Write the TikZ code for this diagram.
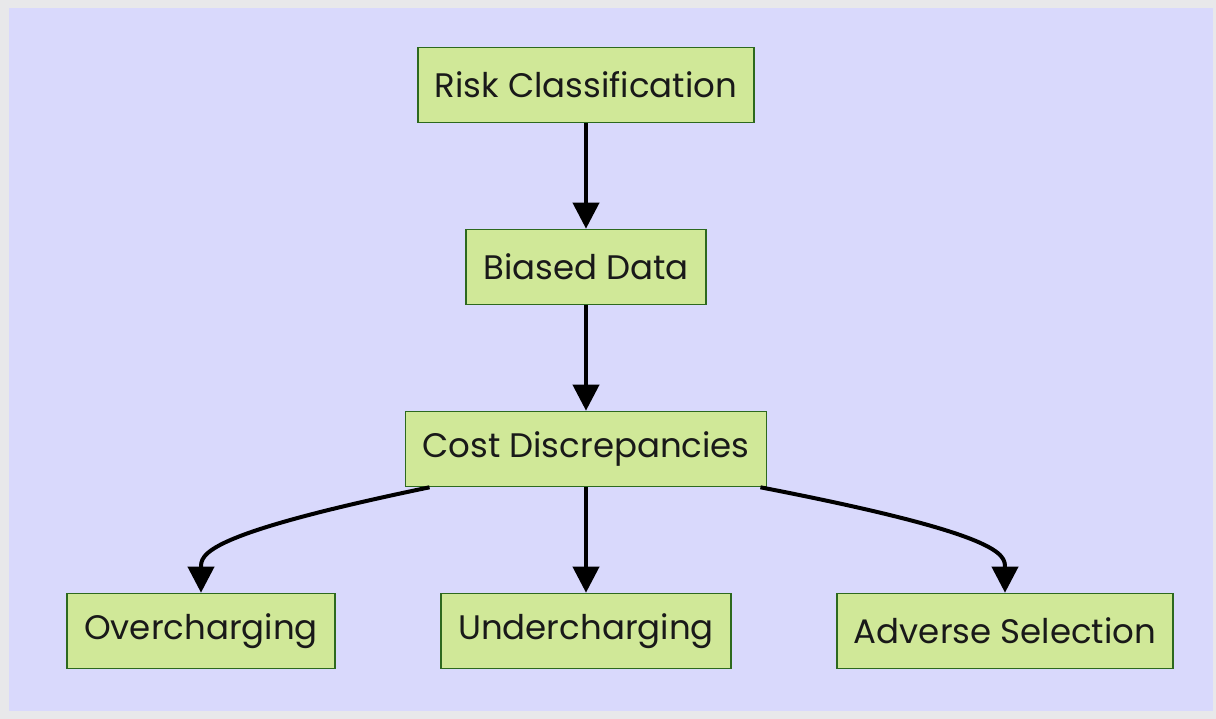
\documentclass[tikz,border=0pt]{standalone}
\usepackage{fontspec}
\setmainfont{Poppins}
\usepackage{tikz}
\usetikzlibrary{positioning}
\usetikzlibrary{arrows.meta}
\definecolor{pagegray}{RGB}{232,232,234}
\definecolor{lavender}{RGB}{217,217,252}
\definecolor{boxfill}{RGB}{208,232,152}
\definecolor{boxline}{RGB}{45,105,30}
\definecolor{inkdark}{RGB}{25,25,25}
\tikzset{node distance=182pt,
      box/.style={draw=boxline, fill=boxfill, line width=1.6pt,
      minimum height=75pt, inner xsep=17pt, text=inkdark,
      font=\fontsize{34}{40}\selectfont},
      link/.style={draw, line width=4pt,
      -{Triangle[width=26pt,length=26pt]}}}

\begin{document}
\begin{tikzpicture}[x=1pt,y=-1pt]
          \useasboundingbox (0,0) rectangle (1216,719);
          \fill[pagegray] (0,0) rectangle (1216,719);
          \fill[lavender] (9,8) rectangle (1213,711);
          \node[box] (risk) at (586,85) {Risk Classification};
          \node[box, below of=risk] (biased) {Biased Data};
          \node[box, below of=biased] (cost) {Cost Discrepancies};
          \node[box, below of=cost] (under) {Undercharging};
          \node[box, below of=cost, xshift=-385] (over) {Overcharging};
          \node[box, below of=cost, xshift=419] (adverse) {Adverse Selection};
          \draw[link] (risk) -- (biased);
          \draw[link] (biased) -- (cost);
          \draw[link] (cost) -- (under);
          \draw[link] ([xshift=25]cost.south west) .. controls ([yshift=58]over.north) and ([yshift=38]over.north) .. (over.north);
          \draw[link] ([xshift=-7]cost.south east) .. controls ([yshift=58]adverse.north) and ([yshift=38]adverse.north) .. (adverse.north);
       \end{tikzpicture}
\end{document}
